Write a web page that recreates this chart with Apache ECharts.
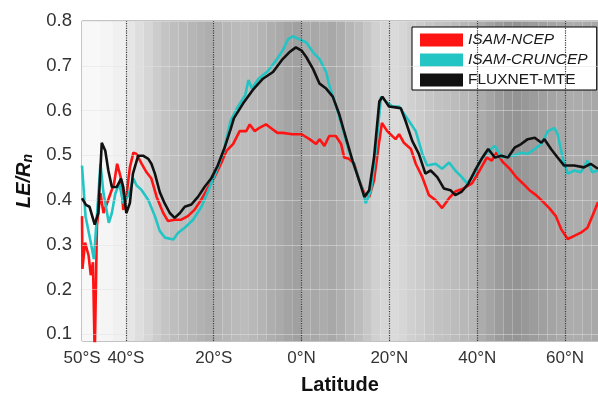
<!DOCTYPE html>
<html>
<head>
<meta charset="utf-8">
<script src="https://cdn.jsdelivr.net/npm/echarts@6/dist/echarts.min.js"></script>
<style>
  html, body { margin: 0; padding: 0; background: #fff; }
  #chart { width: 598px; height: 400px; }
</style>
</head>
<body>
<div id="chart"></div>
<script>
// [latitude, LE/Rn]
const ncep = [
  [-50, 0.364], [-49.9, 0.246], [-49.3, 0.305], [-48.5, 0.276], [-48, 0.232], [-47.5, 0.261],
  [-47.1, 0.05], [-46.6, 0.342], [-45.8, 0.415], [-45.1, 0.371], [-43.9, 0.404], [-42.7, 0.437],
  [-42, 0.481], [-41.2, 0.451], [-40.6, 0.378], [-39.9, 0.407], [-39.1, 0.473], [-38.3, 0.506],
  [-37.6, 0.503], [-36.4, 0.481], [-35.3, 0.462], [-34.2, 0.448], [-33, 0.407], [-31.5, 0.371],
  [-30.4, 0.353], [-28.9, 0.356], [-27.4, 0.356], [-25.9, 0.364], [-24.4, 0.378], [-22.9, 0.4],
  [-21.4, 0.426], [-19.9, 0.45], [-18.4, 0.48], [-17.1, 0.51], [-15.6, 0.525], [-14.1, 0.554],
  [-12.6, 0.554], [-11.8, 0.569], [-10.7, 0.554], [-9.6, 0.561], [-8.1, 0.569], [-7, 0.561],
  [-5.5, 0.55], [-4.3, 0.55], [-2.1, 0.547], [0, 0.547], [1.8, 0.536], [3.3, 0.525], [4.1, 0.536],
  [5.2, 0.521], [6.3, 0.543], [7.8, 0.543], [9, 0.525], [9.7, 0.495], [10.8, 0.492], [12, 0.481],
  [13.1, 0.444], [14.3, 0.415], [15.4, 0.407], [16.5, 0.444], [17.7, 0.532], [18.3, 0.572],
  [19.5, 0.554], [21.4, 0.536], [22.2, 0.547], [23.3, 0.528], [24.9, 0.514], [26, 0.481],
  [27.5, 0.451], [29, 0.411], [30.5, 0.4], [32, 0.382], [33.6, 0.404], [35, 0.419], [36.9, 0.426],
  [38.8, 0.437], [40.3, 0.462], [42.2, 0.495], [43.3, 0.488], [44.4, 0.506], [45.9, 0.484],
  [47.4, 0.47], [48.9, 0.451], [50.4, 0.437], [51.9, 0.422], [53.4, 0.411], [54.9, 0.397],
  [56.4, 0.382], [57.9, 0.364], [59.1, 0.335], [60.6, 0.313], [62.1, 0.32], [63.6, 0.327],
  [65.1, 0.338], [66.2, 0.364], [67.5, 0.395]
]
const cruncep = [
  [-50, 0.477], [-49.2, 0.364], [-48, 0.305], [-47.3, 0.268], [-46.6, 0.364], [-45.8, 0.481],
  [-45.1, 0.415], [-43.9, 0.349], [-43.2, 0.371], [-42.4, 0.415], [-41.5, 0.437], [-40.6, 0.393],
  [-39.4, 0.411], [-38.3, 0.448], [-37.6, 0.433], [-36.4, 0.422], [-34.9, 0.4], [-33.4, 0.364],
  [-32.3, 0.331], [-31.1, 0.316], [-29.2, 0.312], [-28.1, 0.327], [-26.6, 0.338], [-24.7, 0.356],
  [-22.8, 0.385], [-20.9, 0.429], [-19.2, 0.47], [-17.7, 0.51], [-16.2, 0.576], [-14.7, 0.605],
  [-12.8, 0.635], [-12.1, 0.668], [-11.3, 0.649], [-9.8, 0.671], [-7.9, 0.686], [-6.1, 0.708],
  [-4.3, 0.734], [-3.1, 0.759], [-2, 0.766], [-0.5, 0.759], [1.1, 0.752], [2.6, 0.73], [4.1, 0.715],
  [5.6, 0.686], [6.3, 0.656], [7.8, 0.612], [9.3, 0.561], [10.8, 0.51], [12.4, 0.466], [13.9, 0.422],
  [14.6, 0.393], [15.8, 0.422], [16.9, 0.51], [18.1, 0.631], [19.2, 0.62], [20.7, 0.609],
  [22.2, 0.609], [24.5, 0.576], [26, 0.554], [27.5, 0.503], [28.6, 0.477], [30.5, 0.481],
  [32, 0.47], [33.6, 0.484], [35, 0.466], [36.5, 0.451], [37.7, 0.437], [39.2, 0.455], [40.7, 0.488],
  [42.2, 0.506], [44, 0.521], [45.5, 0.495], [47, 0.499], [48.5, 0.499], [50, 0.506], [51.5, 0.503],
  [53.1, 0.514], [54.6, 0.525], [56.1, 0.554], [57.6, 0.561], [58.3, 0.547], [59.5, 0.492],
  [60.6, 0.459], [62.1, 0.466], [63.6, 0.462], [65.1, 0.488], [66.2, 0.462], [67.5, 0.466]
]
const fluxnet = [
  [-50, 0.404], [-49.1, 0.389], [-48.3, 0.385], [-47.1, 0.345], [-46.3, 0.371], [-45.5, 0.528],
  [-44.7, 0.51], [-44, 0.466], [-43.2, 0.429], [-42.1, 0.429], [-41.1, 0.448], [-40.6, 0.429],
  [-39.9, 0.371], [-39.1, 0.393], [-38.4, 0.459], [-37.2, 0.499], [-36.1, 0.499], [-34.9, 0.492],
  [-34.2, 0.481], [-33.4, 0.459], [-32.3, 0.418], [-31.2, 0.393], [-30, 0.371], [-28.9, 0.36],
  [-27.7, 0.371], [-26.6, 0.385], [-25.1, 0.39], [-23.6, 0.407], [-22.1, 0.429], [-20.6, 0.448],
  [-19.1, 0.477], [-17.6, 0.515], [-16.1, 0.56], [-15.4, 0.583], [-13.3, 0.616], [-11.1, 0.646],
  [-8.8, 0.671], [-6.5, 0.686], [-4.3, 0.715], [-2.8, 0.73], [-1.3, 0.741], [0, 0.734], [1.1, 0.719],
  [2.6, 0.693], [4.1, 0.66], [5.6, 0.649], [7.1, 0.631], [8.6, 0.591], [10.1, 0.539], [11.6, 0.488],
  [13.1, 0.444], [14.3, 0.407], [15.4, 0.422], [16.5, 0.495], [17.7, 0.62], [18.4, 0.631],
  [19.9, 0.609], [21.4, 0.607], [22.6, 0.605], [23.7, 0.576], [25.2, 0.532], [26.7, 0.503],
  [28.2, 0.459], [29.4, 0.466], [30.9, 0.451], [32.4, 0.426], [33.9, 0.422], [35, 0.411],
  [36.5, 0.419], [38, 0.437], [39.5, 0.466], [41, 0.492], [42.5, 0.514], [44, 0.495], [45.5, 0.499],
  [47, 0.495], [48.5, 0.517], [50, 0.525], [51.5, 0.536], [53.1, 0.539], [54.6, 0.528], [55.3, 0.536],
  [56.8, 0.514], [58.3, 0.495], [59.8, 0.477], [62.1, 0.477], [64.3, 0.473], [65.8, 0.481], [67.5, 0.47]
]

// background shading: band start latitude and grey level
const bgLat = [-50, -46, -43, -40, -38, -36, -34, -32, -30, -28, -26, -24, -22, -20, -18, -16, -14, -12,
  -10, -8, -6, -4, -2, 0, 2, 4, 6, 8, 10, 12, 14, 16, 18, 20, 22, 24, 26, 28, 30, 32, 34, 36, 38, 40,
  42, 44, 46, 48, 50, 52, 54, 56, 58, 60, 62, 64, 66]
const bgGrey = [248, 245, 240, 230, 222, 214, 204, 196, 190, 186, 182, 178, 174, 178, 182, 186, 188, 184,
  180, 174, 170, 164, 160, 170, 168, 172, 168, 174, 182, 188, 198, 208, 214, 218, 214, 208, 204, 198, 194,
  192, 188, 184, 182, 172, 164, 156, 150, 148, 152, 156, 160, 164, 168, 172, 172, 170, 168]

const xTicks = [-50, -40, -20, 0, 20, 40, 60]
const xTickLabels = ['50°S', '40°S', '20°S', '0°N', '20°N', '40°N', '60°N']
const yTicks = [0.1, 0.2, 0.3, 0.4, 0.5, 0.6, 0.7, 0.8]
const gridLats = [-40, -20, 0, 20, 40, 60]

const fontFamily = '"Liberation Sans", Arial, Helvetica, sans-serif'
const xMax = 67.5

let bands = bgLat.map((lat, i) => {
  let g = bgGrey[i]
  let end = i + 1 < bgLat.length ? bgLat[i + 1] : xMax
  return [
    { xAxis: lat, itemStyle: { color: `rgb(${g},${g},${g})` } },
    { xAxis: end }
  ]
})

let chart = echarts.init(document.getElementById('chart'))
chart.setOption({
  animation: false,
  textStyle: { fontFamily: fontFamily },
  grid: {
    left: 82, top: 21, width: 518, height: 326,
    show: true, borderColor: '#888', borderWidth: 1, backgroundColor: 'transparent'
  },
  legend: {
    orient: 'vertical',
    left: 412, top: 27,
    backgroundColor: '#fff', borderColor: '#000', borderWidth: 1, borderRadius: 0,
    padding: [5, 9, 2, 8],
    itemWidth: 43, itemHeight: 13, itemGap: 4,
    icon: 'rect',
    textStyle: { fontSize: 15.5, color: '#1a1a1a', fontFamily: fontFamily },
    data: [
      { name: 'ISAM-NCEP', textStyle: { fontStyle: 'italic' } },
      { name: 'ISAM-CRUNCEP', textStyle: { fontStyle: 'italic' } },
      { name: 'FLUXNET-MTE' }
    ]
  },
  xAxis: {
    type: 'value', min: -50, max: xMax,
    name: 'Latitude', nameLocation: 'middle', nameGap: 34,
    nameTextStyle: { fontSize: 20, fontWeight: 'bold', color: '#111' },
    axisLine: { show: false },
    axisTick: { show: true, inside: true, length: 4, customValues: xTicks, lineStyle: { color: '#555' } },
    axisLabel: {
      customValues: xTicks, margin: 9, fontSize: 17, color: '#333',
      formatter: v => xTickLabels[xTicks.indexOf(v)]
    },
    splitLine: { show: false }
  },
  yAxis: {
    type: 'value', min: 0.085, max: 0.8,
    name: '{a|LE/R}{b|n}', nameLocation: 'middle', nameGap: 45, nameRotate: 90,
    nameTextStyle: {
      rich: {
        a: { fontSize: 20, fontWeight: 'bold', fontStyle: 'italic', color: '#111', fontFamily: fontFamily },
        b: { fontSize: 14, fontWeight: 'bold', fontStyle: 'italic', color: '#111', fontFamily: fontFamily,
             verticalAlign: 'bottom', padding: [8, 0, 0, 0] }
      }
    },
    axisLine: { show: false },
    axisTick: { show: true, inside: true, length: 4, customValues: yTicks, lineStyle: { color: '#888' } },
    axisLabel: {
      customValues: yTicks, margin: 10, fontSize: 18.5, color: '#333',
      formatter: v => v.toFixed(1)
    },
    splitLine: { show: false }
  },
  series: [
    {
      name: 'shade', type: 'line', data: [], z: 0, silent: true,
      markArea: { silent: true, data: bands }
    },
    {
      name: 'grid', type: 'line', data: [], z: 1, silent: true,
      markLine: {
        silent: true, symbol: 'none', label: { show: false },
        data: [
          ...yTicks.map(v => ({ yAxis: v, lineStyle: { color: '#e2e2e2', width: 1, type: 'solid', opacity: 0.5 } })),
          ...gridLats.map(v => ({ xAxis: v, lineStyle: { color: '#3a3a3a', width: 1.2, type: 'dotted' } }))
        ]
      }
    },
    {
      name: 'ISAM-NCEP', type: 'line', data: ncep, z: 3, showSymbol: false,
      itemStyle: { color: '#ff1414' }, lineStyle: { width: 2.6, color: '#ff1414' }
    },
    {
      name: 'ISAM-CRUNCEP', type: 'line', data: cruncep, z: 4, showSymbol: false,
      itemStyle: { color: '#22c4c4' }, lineStyle: { width: 2.6, color: '#22c4c4' }
    },
    {
      name: 'FLUXNET-MTE', type: 'line', data: fluxnet, z: 5, showSymbol: false,
      itemStyle: { color: '#111' }, lineStyle: { width: 2.6, color: '#111' }
    }
  ]
})
</script>
</body>
</html>
